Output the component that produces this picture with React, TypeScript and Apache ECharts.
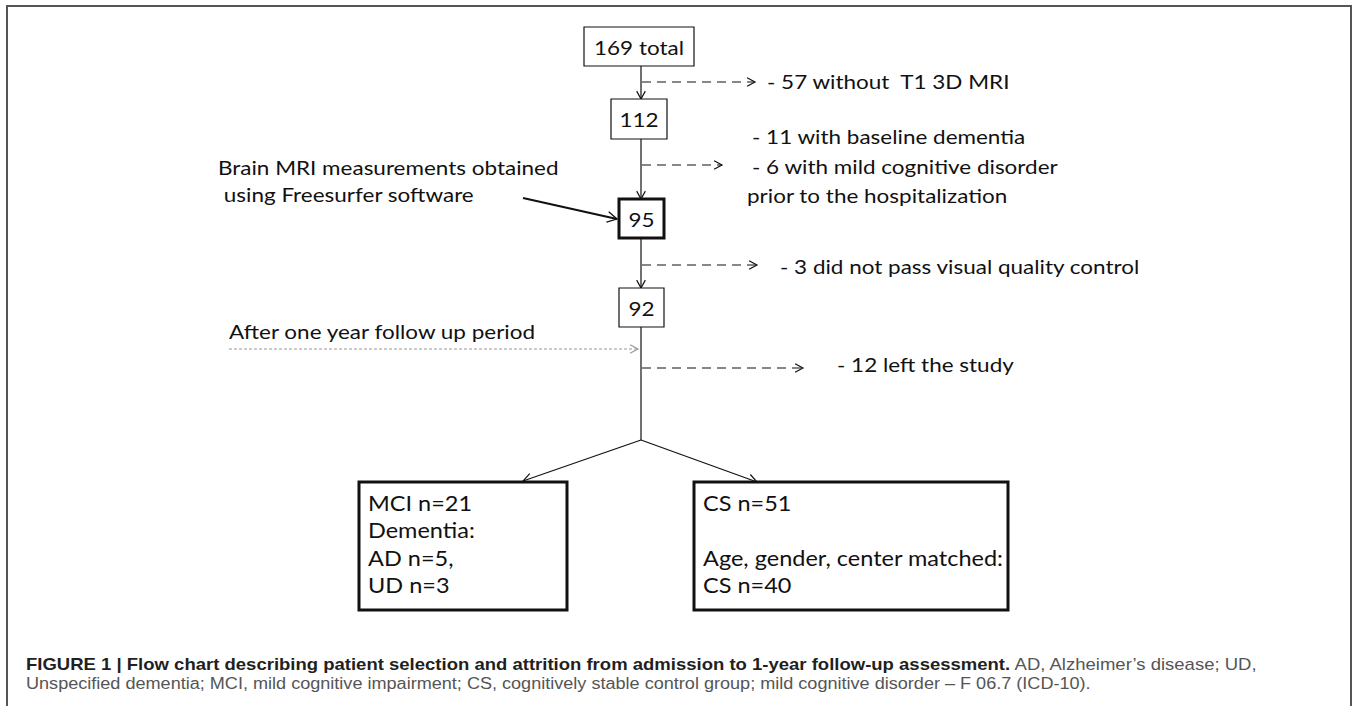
import React, { useEffect, useRef } from "react";
import * as echarts from "echarts";

// ---- data (texts and counts of the flow chart) ----
const stageCounts = ["169 total", "112", "95", "92"];
const exclusionLines = [
  ["- 57 without  T1 3D MRI"],
  ["- 11 with baseline dementia", "- 6 with mild cognitive disorder", "prior to the hospitalization"],
  ["- 3 did not pass visual quality control"],
  ["- 12 left the study"],
];
const sideNoteMRI = ["Brain MRI measurements obtained", " using Freesurfer software"];
const sideNoteFollowUp = ["After one year follow up period"];
const outcomeLeft = ["MCI n=21", "Dementia:", "AD n=5,", "UD n=3"];
const outcomeRight = ["CS n=51", "", "Age, gender, center matched:", "CS n=40"];
const captionBold = "FIGURE 1 | Flow chart describing patient selection and attrition from admission to 1-year follow-up assessment.";
const captionRest1 = " AD, Alzheimer\u2019s disease; UD,";
const captionLine2 = "Unspecified dementia; MCI, mild cognitive impairment; CS, cognitively stable control group; mild cognitive disorder \u2013 F 06.7 (ICD-10).";

// ---- layout ----
const FONT = "Lato, 'Open Sans', sans-serif";
const FS = 19.9;
const FS_BOX = 20.8;
const SX = 1.13;
const CAP_FONT = "'Liberation Sans', Arial, sans-serif";
const CX = 641;
const stageBoxes = [
  { x: 584, y: 27, w: 110, h: 39, lw: 1.2 },
  { x: 611, y: 99, w: 56, h: 40, lw: 1.2 },
  { x: 619, y: 199, w: 45, h: 39, lw: 3 },
  { x: 619, y: 288, w: 45, h: 39, lw: 1.2 },
];
const exclusionArrowY = [82, 165, 265, 368];
const exclusionArrowEnd = [755, 722, 757, 803];
const exclusionTextPos = [
  [[767, 82]],
  [[752, 137], [752, 167], [747, 196]],
  [[780, 267]],
  [[837, 365]],
];

function arrowHead(x1: number, y1: number, x2: number, y2: number, size: number, color: string, lw: number) {
  const ang = Math.atan2(y2 - y1, x2 - x1);
  const a = 0.5;
  return {
    type: "polyline",
    shape: {
      points: [
        [x2 - size * Math.cos(ang - a), y2 - size * Math.sin(ang - a)],
        [x2, y2],
        [x2 - size * Math.cos(ang + a), y2 - size * Math.sin(ang + a)],
      ],
    },
    style: { stroke: color, lineWidth: lw, fill: null },
    silent: true,
  };
}

function arrow(x1: number, y1: number, x2: number, y2: number, opt: { color?: string; lw?: number; dash?: number[]; head?: number } = {}) {
  const color = opt.color || "#111";
  const lw = opt.lw || 1.2;
  return [
    {
      type: "line",
      shape: { x1, y1, x2, y2 },
      style: { stroke: color, lineWidth: lw, lineDash: opt.dash || null },
      silent: true,
    },
    arrowHead(x1, y1, x2, y2, opt.head || 9, color, Math.min(lw, 1.3)),
  ];
}

function txt(x: number, y: number, text: string, extra: any = {}, size: number = FS) {
  return {
    type: "text",
    x,
    y,
    scaleX: SX,
    style: {
      text,
      fontFamily: FONT,
      fontSize: size,
      fill: "#111",
      align: "left",
      verticalAlign: "middle",
      ...extra,
    },
    silent: true,
  };
}

function buildGraphic() {
  const els: any[] = [];
  // outer frame
  els.push({
    type: "rect",
    shape: { x: 7, y: 6, width: 1344, height: 730 },
    style: { fill: null, stroke: "#555", lineWidth: 2 },
    silent: true,
  });

  // main vertical flow
  for (let i = 0; i < stageBoxes.length - 1; i++) {
    const a = stageBoxes[i];
    const b = stageBoxes[i + 1];
    els.push(...arrow(CX, a.y + a.h, CX, b.y, { lw: 1.2, head: 9 }));
  }
  const last = stageBoxes[stageBoxes.length - 1];
  const junctionY = 440;
  els.push({
    type: "line",
    shape: { x1: CX, y1: last.y + last.h, x2: CX, y2: junctionY },
    style: { stroke: "#111", lineWidth: 1.2 },
    silent: true,
  });
  els.push(...arrow(CX, junctionY, 523, 481, { lw: 1.2, head: 10 }));
  els.push(...arrow(CX, junctionY, 757, 482, { lw: 1.2, head: 10 }));

  // stage boxes
  stageBoxes.forEach((b, i) => {
    els.push({
      type: "rect",
      shape: { x: b.x, y: b.y, width: b.w, height: b.h },
      style: { fill: "#fff", stroke: "#111", lineWidth: b.lw },
      silent: true,
    });
    els.push(txt(b.x + b.w / 2, b.y + b.h / 2 + 1, stageCounts[i], { align: "center" }));
  });

  // exclusion arrows and texts
  exclusionArrowY.forEach((y, i) => {
    els.push(...arrow(CX + 1, y, exclusionArrowEnd[i], y, { lw: 1.2, dash: [9, 6], head: 9 }));
    exclusionLines[i].forEach((line, j) => {
      const p = exclusionTextPos[i][j];
      els.push(txt(p[0], p[1], line));
    });
  });

  // MRI note and arrow
  els.push(txt(218, 168, sideNoteMRI[0]));
  els.push(txt(218, 195, sideNoteMRI[1]));
  els.push(...arrow(523, 198, 617, 219, { lw: 2.2, head: 11 }));

  // follow-up note and dotted arrow
  els.push(txt(229, 332, sideNoteFollowUp[0]));
  els.push(...arrow(229, 349, 638, 349, { lw: 1.2, dash: [3, 2], color: "#9a9a9a", head: 9 }));

  // outcome boxes
  const boxes = [
    { x: 359, y: 482, w: 208, h: 128, lines: outcomeLeft },
    { x: 694, y: 482, w: 314, h: 128, lines: outcomeRight },
  ];
  boxes.forEach((b) => {
    els.push({
      type: "rect",
      shape: { x: b.x, y: b.y, width: b.w, height: b.h },
      style: { fill: "#fff", stroke: "#111", lineWidth: 3 },
      silent: true,
    });
    b.lines.forEach((line, j) => {
      if (line) els.push(txt(b.x + 9, b.y + 21 + j * 27.5, line, {}, FS_BOX));
    });
  });

  // caption
  els.push({
    type: "text",
    x: 26,
    y: 664,
    scaleX: 1.157,
    style: {
      text: "{b|" + captionBold + "}{r|" + captionRest1 + "}",
      verticalAlign: "middle",
      align: "left",
      rich: {
        b: { fontFamily: CAP_FONT, fontSize: 16, fontWeight: "bold", fill: "#231f20" },
        r: { fontFamily: CAP_FONT, fontSize: 16, fill: "#555" },
      },
    },
    silent: true,
  });
  els.push({
    type: "text",
    x: 26,
    y: 684,
    scaleX: 1.13,
    style: {
      text: captionLine2,
      fontFamily: CAP_FONT,
      fontSize: 16,
      fill: "#555",
      align: "left",
      verticalAlign: "middle",
    },
    silent: true,
  });
  return els;
}

export default function App() {
  const ref = useRef<HTMLDivElement>(null);
  useEffect(() => {
    if (!ref.current) return;
    const chart = echarts.init(ref.current, null, { renderer: "svg" });
    chart.setOption({
      animation: false,
      backgroundColor: "#fff",
      graphic: { elements: buildGraphic() },
    });
    return () => chart.dispose();
  }, []);
  return (
    <div
      ref={ref}
      style={{ position: "fixed", left: 0, top: 0, width: 1357, height: 706, background: "#fff" }}
    />
  );
}
